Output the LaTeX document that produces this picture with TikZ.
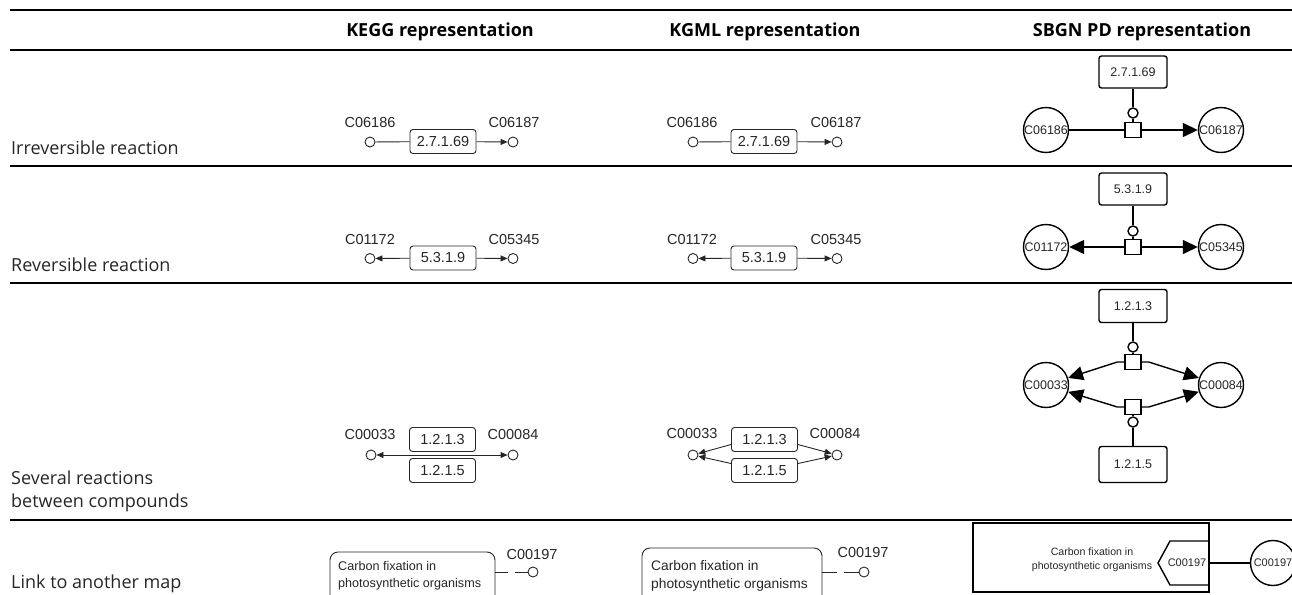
\documentclass[tikz,border=0pt]{standalone}
\usepackage{fontspec}
\setmainfont{Open Sans}
\newfontfamily\arialf{Liberation Sans}
\usetikzlibrary{arrows.meta,calc}
\definecolor{ink}{rgb}{0.15,0.15,0.15}
\begin{document}
\begin{tikzpicture}[x=1pt,y=-1pt,
  rule/.style={line width=1.4pt},
  rowlbl/.style={anchor=base west, inner sep=0, text=ink, font=\fontsize{18}{22}\selectfont},
  hdr/.style={anchor=base, inner sep=0, font=\fontsize{18}{22}\selectfont\bfseries},
  cpd/.style={circle, draw=ink, line width=0.9pt, minimum size=10pt, inner sep=0},
  cname/.style={inner sep=0, text=ink, font=\arialf\fontsize{14.5}{16}\selectfont},
  enz/.style={draw=ink, rounded corners=3pt, line width=0.9pt, minimum width=66pt, minimum height=24pt, inner sep=0, text=ink, font=\arialf\fontsize{14.5}{16}\selectfont},
  kl/.style={line width=0.9pt, draw=ink},
  karr/.style={kl, -{Triangle[length=7pt,width=6pt]}},
  sl/.style={line width=1.4pt},
  sarr/.style={sl, -{Triangle[length=15pt,width=14pt]}},
  scpd/.style={circle, draw, line width=1.4pt, minimum size=45pt, inner sep=0, text=ink, font=\arialf\fontsize{12.5}{14}\selectfont},
  senz/.style={draw, rounded corners=2.5pt, line width=1.4pt, minimum width=68pt, minimum height=32pt, inner sep=0, text=ink, font=\arialf\fontsize{12.5}{14}\selectfont},
  scat/.style={circle, draw, line width=1.4pt, minimum size=10pt, inner sep=0},
  sproc/.style={draw, line width=1.4pt, minimum width=16pt, minimum height=15pt, inner sep=0},
]
\useasboundingbox (0,0) rectangle (1292,594);
\clip (0,0) rectangle (1292,594);

% table rules
\draw[rule, line width=1.8pt] (10,10) -- (1292,10);
\draw[rule] (10,50) -- (1292,50);
\draw[rule] (10,166) -- (1292,166);
\draw[rule] (10,283) -- (1292,283);
\draw[rule] (10,520) -- (1292,520);

% headers
\node[hdr] (h1) at (440,37) {KEGG representation};
\node[hdr] (h2) at (765,37) {KGML representation};
\node[hdr] (h3) at (1142,37) {SBGN PD representation};

% row labels
\node[rowlbl] (r1) at (11,154) {Irreversible reaction};
\node[rowlbl] (r2) at (11,271.5) {Reversible reaction};
\node[rowlbl] (r3a) at (11,484) {Several reactions};
\node[rowlbl] (r3b) at (11,507.5) {between compounds};
\node[rowlbl] (r4) at (11,588) {Link to another map};

% ===== Row 1 =====
% KEGG
\node[cpd] (k1a) at (370,142) {};
\node[cpd] (k1b) at (513,142) {};
\node[cname] (k1an) at (370,123) {C06186};
\node[cname] (k1bn) at (514,123) {C06187};
\node[enz] (k1e) at (443,141.5) {2.7.1.69};
\draw[kl] (k1a) -- (k1e);
\draw[karr] (k1e) -- (k1b);
% KGML
\node[cpd] (g1a) at (693,142) {};
\node[cpd] (g1b) at (837,142) {};
\node[cname] (g1an) at (692,123) {C06186};
\node[cname] (g1bn) at (836,123) {C06187};
\node[enz] (g1e) at (764,141.5) {2.7.1.69};
\draw[kl] (g1a) -- (g1e);
\draw[karr] (g1e) -- (g1b);
% SBGN
\node[senz] (s1e) at (1133,72) {2.7.1.69};
\node[scat] (s1c) at (1133,113) {};
\node[sproc] (s1p) at (1133,130) {};
\node[scpd] (s1a) at (1046,130) {\makebox[0pt]{C06186}};
\node[scpd] (s1b) at (1221,130) {\makebox[0pt]{C06187}};
\draw[sl] (s1e) -- (s1c);
\draw[sl] (s1c) -- (s1p);
\draw[sl] (s1a) -- (s1p);
\draw[sarr] (s1p) -- (s1b);

% ===== Row 2 =====
% KEGG
\node[cpd] (k2a) at (370,258.5) {};
\node[cpd] (k2b) at (513,258.5) {};
\node[cname] (k2an) at (370,239.5) {C01172};
\node[cname] (k2bn) at (514,239.5) {C05345};
\node[enz] (k2e) at (443,258) {5.3.1.9};
\draw[karr] (k2e) -- (k2a);
\draw[karr] (k2e) -- (k2b);
% KGML
\node[cpd] (g2a) at (693,258.5) {};
\node[cpd] (g2b) at (837,258.5) {};
\node[cname] (g2an) at (692,239.5) {C01172};
\node[cname] (g2bn) at (836,239.5) {C05345};
\node[enz] (g2e) at (764,258) {5.3.1.9};
\draw[karr] (g2e) -- (g2a);
\draw[karr] (g2e) -- (g2b);
% SBGN
\node[senz] (s2e) at (1133,189) {5.3.1.9};
\node[scat] (s2c) at (1133,231) {};
\node[sproc] (s2p) at (1133,247) {};
\node[scpd] (s2a) at (1046,247) {\makebox[0pt]{C01172}};
\node[scpd] (s2b) at (1221,247) {\makebox[0pt]{C05345}};
\draw[sl] (s2e) -- (s2c);
\draw[sl] (s2c) -- (s2p);
\draw[sarr] (s2p) -- (s2a);
\draw[sarr] (s2p) -- (s2b);

% ===== Row 3 =====
% KEGG
\node[cpd] (k3a) at (371,455) {};
\node[cpd] (k3b) at (513,455) {};
\node[cname] (k3an) at (370,435) {C00033};
\node[cname] (k3bn) at (513,435) {C00084};
\node[enz] (k3e1) at (442.5,439.5) {1.2.1.3};
\node[enz] (k3e2) at (442.5,470.5) {1.2.1.5};
\draw[kl, {Triangle[length=7pt,width=6pt]}-{Triangle[length=7pt,width=6pt]}] (k3a) -- (k3b);
% KGML
\node[cpd] (g3a) at (693,455) {};
\node[cpd] (g3b) at (837,455) {};
\node[cname] (g3an) at (692,434) {C00033};
\node[cname] (g3bn) at (835,434) {C00084};
\node[enz] (g3e1) at (764.5,439.5) {1.2.1.3};
\node[enz] (g3e2) at (764.5,470.5) {1.2.1.5};
\draw[karr] ($(g3e1.west)+(0,5)$) -- (g3a);
\draw[karr] ($(g3e2.west)+(0,-7)$) -- (g3a);
\draw[karr] ($(g3e1.east)+(0,5)$) -- (g3b);
\draw[karr] ($(g3e2.east)+(0,-7)$) -- (g3b);
% SBGN
\node[senz, minimum height=33pt] (s3e1) at (1133,306) {1.2.1.3};
\node[scat] (s3c1) at (1133,347) {};
\node[sproc] (s3p1) at (1133,362) {};
\node[scpd] (s3a) at (1046,385) {\makebox[0pt]{C00033}};
\node[scpd] (s3b) at (1221,385) {\makebox[0pt]{C00084}};
\node[sproc] (s3p2) at (1133,407) {};
\node[scat] (s3c2) at (1133,422) {};
\node[senz, minimum height=36pt] (s3e2) at (1133,464.5) {1.2.1.5};
\draw[sl] (s3e1) -- (s3c1);
\draw[sl] (s3c1) -- (s3p1);
\draw[sl] (s3e2) -- (s3c2);
\draw[sl] (s3c2) -- (s3p2);
\draw[sarr] (s3p1.west) -- ++(-7,0) -- (s3a);
\draw[sarr] (s3p1.east) -- ++(7,0) -- (s3b);
\draw[sarr] (s3p2.west) -- ++(-7,0) -- (s3a);
\draw[sarr] (s3p2.east) -- ++(7,0) -- (s3b);

% ===== Row 4 =====
% KEGG
\node[kl, draw, rounded corners=8pt, minimum width=165pt, minimum height=52pt, inner sep=0] (k4m) at (412.5,578) {};
\node[anchor=west, align=left, inner sep=0, text=ink, font=\arialf\fontsize{12.6}{16.5}\selectfont] (k4t) at (338,575.5) {Carbon fixation in\\photosynthetic organisms};
\node[cpd] (k4c) at (533,572) {};
\node[cname] (k4cn) at (532,555) {C00197};
\draw[kl, dash pattern=on 13pt off 7pt] (k4m.east |- k4c) -- (k4c);
% KGML
\node[kl, draw, rounded corners=8pt, minimum width=180pt, minimum height=56pt, inner sep=0] (g4m) at (732,576) {};
\node[anchor=west, align=left, inner sep=0, text=ink, font=\arialf\fontsize{13.8}{17.5}\selectfont] (g4t) at (651,576) {Carbon fixation in\\photosynthetic organisms};
\node[cpd] (g4c) at (864,572) {};
\node[cname] (g4cn) at (863,553) {C00197};
\draw[kl, dash pattern=on 15pt off 7pt] (g4m.east |- g4c) -- (g4c);
% SBGN
\node[draw, sl, minimum width=236pt, minimum height=69pt, inner sep=0] (s4m) at (1091,557.5) {};
\node[align=center, inner sep=0, text=ink, font=\arialf\fontsize{10.6}{14}\selectfont] (s4t) at (1092,560) {Carbon fixation in\\photosynthetic organisms};
\draw[sl] (1209,541) -- (1170,541) -- (1158,563) -- (1170,585) -- (1209,585);
\node[inner sep=0, text=ink, font=\arialf\fontsize{11}{13}\selectfont] (s4g) at (1187,563) {C00197};
\coordinate (s4r) at (1209,563);
\node[scpd, font=\arialf\fontsize{11}{13}\selectfont] (s4c) at (1273,563) {\makebox[0pt]{C00197}};
\draw[sl] (s4r) -- (s4c);
\end{tikzpicture}
\end{document}
